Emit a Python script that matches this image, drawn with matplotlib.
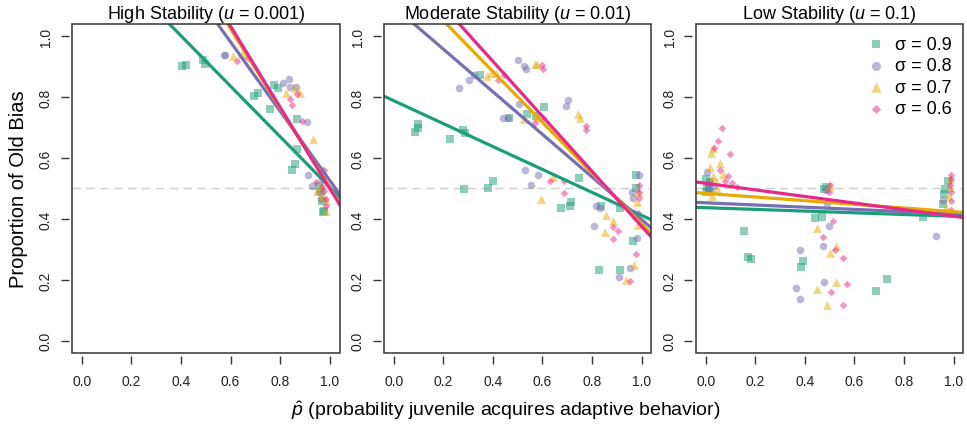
import matplotlib
matplotlib.use("Agg")
import matplotlib.pyplot as plt
from matplotlib.patches import Rectangle

plt.rcParams.update({
    'font.family': ['Liberation Sans', 'DejaVu Sans'],
    'mathtext.fontset': 'custom',
    'mathtext.rm': 'Liberation Sans',
    'mathtext.it': 'Liberation Sans:italic',
})

# colours / markers per sigma (Dark2)
sigmas = ['0.9', '0.8', '0.7', '0.6']
colors = ['#1B9E77', '#7570B3', '#E6AB02', '#E7298A']
markers = ['s', 'o', '^', 'D']
msizes = [26, 30, 40, 15]

titles = ['High Stability ($u$ = 0.001)', 'Moderate Stability ($u$ = 0.01)',
          'Low Stability ($u$ = 0.1)']

# --- High stability (u = 0.001)
hi_09_x = [0.406, 0.420, 0.487, 0.497, 0.696, 0.709, 0.760, 0.776, 0.790, 0.870, 0.868, 0.860, 0.848,
           0.958, 0.964, 0.971, 0.978, 0.975]
hi_09_y = [0.903, 0.906, 0.922, 0.908, 0.802, 0.813, 0.761, 0.840, 0.830, 0.728, 0.630, 0.580, 0.561,
           0.509, 0.487, 0.460, 0.427, 0.422]
hi_08_x = [0.572, 0.579, 0.810, 0.837, 0.840, 0.866, 0.910, 0.911, 0.927, 0.964, 0.971, 0.958]
hi_08_y = [0.938, 0.938, 0.845, 0.859, 0.832, 0.834, 0.717, 0.544, 0.509, 0.466, 0.531, 0.490]
hi_07_x = [0.608, 0.648, 0.823, 0.861, 0.880, 0.931, 0.971, 0.951, 0.985, 0.964, 0.971, 0.985]
hi_07_y = [0.935, 0.943, 0.813, 0.829, 0.815, 0.662, 0.564, 0.493, 0.427, 0.509, 0.476, 0.460]
hi_06_x = [0.626, 0.669, 0.841, 0.850, 0.868, 0.888, 0.978, 0.944, 0.985, 0.985, 0.971, 0.978]
hi_06_y = [0.919, 0.930, 0.793, 0.774, 0.810, 0.720, 0.562, 0.520, 0.466, 0.444, 0.509, 0.493]
hi_icpt = [1.332, 1.662, 1.804, 1.831]
hi_slope = [-0.827, -1.135, -1.30, -1.33]

# --- Moderate stability (u = 0.01)
mod_09_x = [0.085, 0.098, 0.098, 0.227, 0.280, 0.287, 0.285, 0.348, 0.379, 0.402, 0.464, 0.538, 0.575,
            0.608, 0.676, 0.710, 0.714, 0.747, 0.828, 0.912, 0.912, 0.838, 0.966, 0.976, 0.976]
mod_09_y = [0.687, 0.700, 0.711, 0.662, 0.693, 0.682, 0.497, 0.873, 0.503, 0.525, 0.733, 0.744, 0.739,
            0.766, 0.437, 0.444, 0.457, 0.534, 0.232, 0.232, 0.437, 0.444, 0.327, 0.545, 0.502]
mod_08_x = [0.262, 0.302, 0.325, 0.440, 0.460, 0.500, 0.525, 0.532, 0.507, 0.530, 0.555, 0.580, 0.696,
            0.703, 0.818, 0.831, 0.807, 0.909, 0.955, 0.982, 0.966, 0.990, 0.960]
mod_08_y = [0.830, 0.857, 0.873, 0.733, 0.733, 0.922, 0.903, 0.892, 0.779, 0.561, 0.512, 0.544, 0.772,
            0.790, 0.444, 0.435, 0.378, 0.209, 0.238, 0.337, 0.469, 0.545, 0.488]
mod_07_x = [0.376, 0.393, 0.413, 0.525, 0.568, 0.577, 0.575, 0.592, 0.642, 0.743, 0.753, 0.855, 0.883,
            0.854, 0.936, 0.970, 0.980, 0.986, 0.984]
mod_07_y = [0.868, 0.879, 0.879, 0.728, 0.910, 0.910, 0.735, 0.466, 0.537, 0.744, 0.731, 0.413, 0.394,
            0.356, 0.198, 0.250, 0.455, 0.488, 0.380]
mod_06_x = [0.420, 0.443, 0.568, 0.602, 0.598, 0.604, 0.629, 0.687, 0.687, 0.777, 0.777, 0.883, 0.883,
            0.905, 0.977, 0.953, 0.990, 0.990, 0.988, 0.985]
mod_06_y = [0.857, 0.873, 0.714, 0.730, 0.905, 0.892, 0.526, 0.524, 0.484, 0.706, 0.692, 0.373, 0.334,
            0.362, 0.285, 0.196, 0.510, 0.490, 0.470, 0.420]
mod_icpt = [0.788, 1.097, 1.217, 1.278]
mod_slope = [-0.376, -0.699, -0.833, -0.902]

# --- Low stability (u = 0.1)
low_09_x = [0.000, 0.005, 0.015, 0.002, 0.012, 0.153, 0.170, 0.183, 0.386, 0.392, 0.440, 0.467, 0.478,
            0.484, 0.687, 0.732, 0.878, 0.966, 0.977, 0.962, 0.959]
low_09_y = [0.531, 0.509, 0.520, 0.490, 0.500, 0.360, 0.274, 0.269, 0.242, 0.261, 0.403, 0.408, 0.498,
            0.506, 0.165, 0.203, 0.406, 0.498, 0.526, 0.482, 0.449]
low_08_x = [0.004, 0.008, 0.019, 0.028, 0.012, 0.379, 0.366, 0.379, 0.471, 0.496, 0.478, 0.491, 0.487,
            0.928, 0.959]
low_08_y = [0.553, 0.498, 0.488, 0.509, 0.520, 0.298, 0.174, 0.138, 0.312, 0.376, 0.192, 0.449, 0.496,
            0.343, 0.463]
low_07_x = [0.019, 0.028, 0.015, 0.028, 0.059, 0.068, 0.042, 0.045, 0.025, 0.447, 0.450, 0.489, 0.502,
            0.500, 0.527, 0.525, 0.970, 0.980, 0.985, 0.985]
low_07_y = [0.615, 0.633, 0.569, 0.542, 0.583, 0.548, 0.526, 0.498, 0.476, 0.370, 0.170, 0.119, 0.509,
            0.288, 0.312, 0.192, 0.440, 0.474, 0.506, 0.530]
low_06_x = [0.064, 0.051, 0.031, 0.096, 0.059, 0.079, 0.091, 0.105, 0.125, 0.514, 0.471, 0.523, 0.554,
            0.568, 0.507, 0.554, 0.496, 0.500, 0.990, 0.990, 0.985, 0.990, 0.990, 0.990]
low_06_y = [0.698, 0.657, 0.632, 0.613, 0.562, 0.526, 0.542, 0.518, 0.506, 0.394, 0.340, 0.298, 0.271,
            0.185, 0.160, 0.116, 0.490, 0.510, 0.545, 0.530, 0.510, 0.490, 0.460, 0.430]
low_icpt = [0.437, 0.453, 0.484, 0.517]
low_slope = [-0.028, -0.036, -0.060, -0.108]

panels = [
    ([(hi_09_x, hi_09_y), (hi_08_x, hi_08_y), (hi_07_x, hi_07_y), (hi_06_x, hi_06_y)], hi_icpt, hi_slope),
    ([(mod_09_x, mod_09_y), (mod_08_x, mod_08_y), (mod_07_x, mod_07_y), (mod_06_x, mod_06_y)], mod_icpt, mod_slope),
    ([(low_09_x, low_09_y), (low_08_x, low_08_y), (low_07_x, low_07_y), (low_06_x, low_06_y)], low_icpt, low_slope),
]

ticks = [0.0, 0.2, 0.4, 0.6, 0.8, 1.0]
tick_labels = ['0.0', '0.2', '0.4', '0.6', '0.8', '1.0']

fig = plt.figure(figsize=(9.67, 4.31), dpi=100)
lefts = [0.0745, 0.3971, 0.7197]

for i, (pts, icpt, slope) in enumerate(panels):
    ax = fig.add_axes([lefts[i], 0.1787, 0.2766, 0.7633])
    # R-like axes: ticks detached slightly from the box
    for side in ['left', 'bottom']:
        ax.spines[side].set_position(('outward', 2.5))
    for side in ax.spines:
        ax.spines[side].set_visible(False)
    ax.add_patch(Rectangle((0, 0), 1, 1, transform=ax.transAxes, fill=False,
                           lw=1.1, edgecolor='#333333', clip_on=False, zorder=5))

    ax.axhline(0.5, color='#CCCCCC', lw=1.0, dashes=(6, 4), zorder=1)
    for j, (xs, ys) in enumerate(pts):
        ax.scatter(xs, ys, s=msizes[j], marker=markers[j], color=colors[j], alpha=0.5,
                   linewidths=0, zorder=2, label='σ = ' + sigmas[j])
    for j in range(4):
        ax.axline((0, icpt[j]), slope=slope[j], color=colors[j], lw=2.3, zorder=3)

    ax.set_xlim(-0.04, 1.04)
    ax.set_ylim(-0.04, 1.04)
    ax.set_xticks(ticks)
    ax.set_xticklabels(tick_labels)
    ax.set_yticks(ticks)
    ax.set_yticklabels(tick_labels, rotation=90, va='center')
    ax.tick_params(direction='out', length=5.5, width=1.0, color='#333333',
                   labelsize=10, labelcolor='#222222')
    ax.tick_params(axis='x', pad=7)
    ax.tick_params(axis='y', pad=6, labelrotation=90)
    ax.set_title(titles[i], fontsize=13, pad=4)
    if i == 2:
        ax.legend(loc='upper right', frameon=False, fontsize=13, handlelength=1.2,
                  handletextpad=0.45, borderaxespad=0.25, labelspacing=0.25, markerscale=1.2)

fig.text(0.019, 0.56, 'Proportion of Old Bias', rotation=90, ha='center', va='center', fontsize=14.5)
fig.text(0.523, 0.048, r'$\hat{p}$ (probability juvenile acquires adaptive behavior)',
         ha='center', va='center', fontsize=14)

fig.savefig('out.png', dpi=100)
